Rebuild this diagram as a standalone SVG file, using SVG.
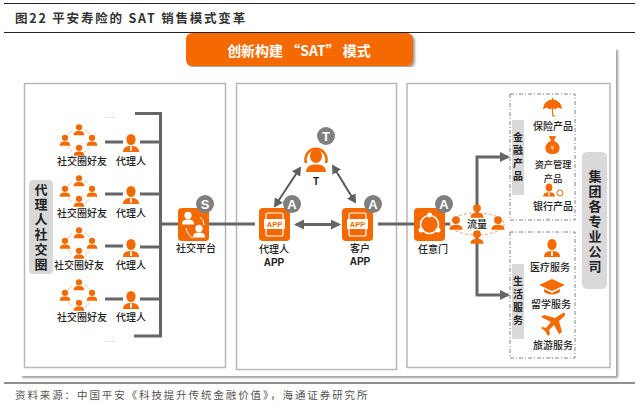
<svg xmlns="http://www.w3.org/2000/svg" width="640" height="407" viewBox="0 0 640 407">
<style>
text{font-family:"Noto Sans CJK SC","Liberation Sans",sans-serif;fill:#222}
.l{font-size:10px;text-anchor:middle;font-weight:500}
.lat{font-size:10px;text-anchor:middle;font-weight:700;font-family:"Liberation Sans",sans-serif}
.v{font-size:13px;text-anchor:middle;font-weight:700;writing-mode:vertical-rl;letter-spacing:2px}
.vs{font-size:10px;text-anchor:middle;font-weight:700;writing-mode:vertical-rl;letter-spacing:3px}
.b{font-size:13px;text-anchor:middle;font-weight:700;fill:#fff;font-family:"Liberation Sans",sans-serif}
.dots{font-size:6px;text-anchor:middle;fill:#777;font-family:"Liberation Sans",sans-serif}
.app{font-size:7.500px;font-weight:700;text-anchor:middle;fill:#f56a00;font-family:"Liberation Sans",sans-serif}
.panel{fill:#fff;stroke:#b8b8b8;stroke-width:1.5}
.tile{fill:#f56a00}
.badge{fill:#7f7f7f}
.tag{fill:#d9d9d9}
.dash{fill:#fff;stroke:#777;stroke-width:.9;stroke-dasharray:4 2 1 2}
.wire{fill:none;stroke:#666;stroke-width:3}
.thin{fill:none;stroke:#5a5a5a;stroke-width:2}
.o{fill:#f56a00}
.ol{fill:none;stroke:#f08a4b;stroke-width:.8;stroke-dasharray:2 1.500}
</style>
<defs>
<filter id="sh" x="-3%" y="-3%" width="106%" height="106%"><feDropShadow dx="2" dy="2" stdDeviation="1.200" flood-color="#888" flood-opacity=".8"/></filter>
<marker id="ah" markerWidth="5" markerHeight="5" refX="3.600" refY="2.500" orient="auto-start-reverse" markerUnits="strokeWidth"><path d="M0 0L4.500 2.500L0 5Z" fill="#5f5f5f"/></marker>
<marker id="ah2" markerWidth="4" markerHeight="4" refX="2.800" refY="1.750" orient="auto-start-reverse" markerUnits="strokeWidth"><path d="M0 0L3.500 1.750L0 3.500Z" fill="#666"/></marker>
<g id="p"><circle cx="0" cy="-3" r="3"/><path d="M-5 4.500C-5 1-2.500 .5 0 .5S5 1 5 4.500Z"/></g>
<g id="ag"><ellipse cx="0" cy="-3.500" rx="4.600" ry="5.500"/><path d="M-8 9C-8 4-4 3 0 3S8 4 8 9Z"/><path d="M-1 3.500H1L.8 8H-.8Z" fill="#fff"/></g>
<g id="fr"><use href="#p" class="o" transform="translate(0 -9.500) scale(1.050)"/><use href="#p" class="o" transform="translate(0 11) scale(1.050)"/><use href="#p" class="o" transform="translate(-14 1) scale(1.050)"/><use href="#p" class="o" transform="translate(13 1) scale(1.050)"/><path class="ol" d="M-11-5Q-9-8-6-10M6-10Q9-8 11-5M-11 7Q-9 10-6 12M6 12Q9 10 11 7"/></g>
</defs>
<rect width="640" height="407" fill="#fff"/>
<path d="M4 3.500H635M4 32.500H635M4 383H635" stroke="#222" stroke-width="1" fill="none"/>
<text x="15" y="23" font-size="12.500" font-weight="700" letter-spacing="1.800" style="fill:#333">图22 平安寿险的 SAT 销售模式变革</text>
<text x="15" y="399" font-size="10.500" letter-spacing="1.900" style="fill:#555">资料来源：中国平安《科技提升传统金融价值》，海通证券研究所</text>

<rect x="20" y="48" width="596" height="328" fill="#fff" filter="url(#sh)"/>
<g id="header"><rect x="186" y="33" width="227" height="33" rx="6" fill="#f56a00" filter="url(#sh)"/><text x="299" y="56" font-size="14" font-weight="700" text-anchor="middle" style="fill:#fff">创新构建 “SAT” 模式</text></g>
<rect class="panel" x="24.500" y="83.500" width="201" height="284"/>
<rect class="panel" x="236.500" y="83.500" width="160" height="286"/>
<rect class="panel" x="407" y="83.500" width="203" height="284"/>

<g id="connectors">
<path class="wire" d="M135 113.500H160.500V336H134"/>
<path class="wire" d="M140 142H160M140 194H160M140 247H160M140 299H160M105 142H123M105 194H123M105 246H123M105 299H123"/>
<path class="wire" d="M160 224H178M209 224H255"/>
<path class="wire" d="M378 224H414M445 224H456"/>
<path class="wire" marker-start="url(#ah2)" marker-end="url(#ah2)" d="M296 224.500H339"/>
<path class="thin" marker-start="url(#ah)" marker-end="url(#ah)" d="M275 206L300 168"/>
<path class="thin" marker-start="url(#ah)" marker-end="url(#ah)" d="M333 166L355 202"/>
<path class="wire" marker-end="url(#ah2)" d="M477 235V157H508"/>
<path class="wire" marker-end="url(#ah2)" d="M477 235V295H508"/>
</g>

<g id="social-circle">
<rect class="tag" x="29" y="180" width="24" height="94" rx="4"/>
<text class="v" x="41" y="228">代理人社交圈</text>
<text class="dots" x="110" y="118">......</text>
<text class="dots" x="110" y="342">......</text>
</g>

<g id="row1"><use href="#fr" x="79" y="140"/><use href="#ag" class="o" x="131" y="143"/><text class="l" x="82" y="165">社交圈好友</text><text class="l" x="131" y="165">代理人</text></g>
<g id="row2"><use href="#fr" x="79" y="191"/><use href="#ag" class="o" x="131" y="195"/><text class="l" x="82" y="217">社交圈好友</text><text class="l" x="131" y="217">代理人</text></g>
<g id="row3"><use href="#fr" x="79" y="243"/><use href="#ag" class="o" x="131" y="248"/><text class="l" x="79" y="269">社交圈好友</text><text class="l" x="131" y="269">代理人</text></g>
<g id="row4"><use href="#fr" x="79" y="295"/><use href="#ag" class="o" x="131" y="300"/><text class="l" x="82" y="321">社交圈好友</text><text class="l" x="131" y="321">代理人</text></g>

<g id="social-platform"><rect class="tile" x="178" y="208" width="31" height="33" rx="4"/><use href="#p" fill="#fff" transform="translate(188 219) scale(1.200)"/><use href="#p" fill="#fff" transform="translate(199 232) scale(1.200)"/><path d="M186 228Q188 236 193 238M200 217Q204 220 204 225" fill="none" stroke="#fff" stroke-width="1"/><circle class="badge" cx="205" cy="204" r="9"/><text class="b" x="205" y="209">S</text><text class="l" x="196" y="252">社交平台</text></g>

<g id="agent-app"><rect class="tile" x="259" y="208" width="31" height="33" rx="4"/><rect x="266" y="213" width="17" height="23" rx="2" fill="none" stroke="#fff" stroke-width="1.200"/><rect x="264" y="219" width="21" height="10" rx="1" fill="#fff"/><text class="app" x="274.500" y="227">APP</text><circle class="badge" cx="292" cy="204" r="9"/><text class="b" x="292" y="209">A</text><text class="l" x="274" y="253">代理人<tspan class="lat" x="274" dy="13">APP</tspan></text></g>

<g id="customer-app"><rect class="tile" x="342" y="208" width="31" height="33" rx="4"/><rect x="349" y="213" width="17" height="23" rx="2" fill="none" stroke="#fff" stroke-width="1.200"/><rect x="347" y="219" width="21" height="10" rx="1" fill="#fff"/><text class="app" x="357.500" y="227">APP</text><circle class="badge" cx="373" cy="204" r="9"/><text class="b" x="373" y="209">A</text><text class="l" x="360" y="252">客户<tspan class="lat" x="360" dy="13">APP</tspan></text></g>

<g id="teacher"><circle class="badge" cx="326" cy="136" r="9"/><text class="b" x="326" y="141">T</text><path d="M306 163A10.500 11 0 1 1 326 163" fill="none" stroke="#f56a00" stroke-width="2.500"/><ellipse class="o" cx="316" cy="156" rx="6" ry="7"/><path class="o" d="M306 172C306 166 311 164.500 316 164.500S326 166 326 172Z"/><text class="lat" x="316" y="185">T</text></g>

<g id="anydoor"><rect class="tile" x="414" y="208" width="31" height="33" rx="4"/><circle cx="429.500" cy="224.500" r="9" fill="none" stroke="#fff" stroke-width="1.500"/><circle cx="429.500" cy="215" r="2.500" fill="#fff"/><circle cx="421" cy="230" r="2.500" fill="#fff"/><circle cx="438" cy="230" r="2.500" fill="#fff"/><circle class="badge" cx="444" cy="204" r="9"/><text class="b" x="444" y="209">A</text><text class="l" x="433" y="253">任意门</text></g>

<g id="traffic"><ellipse cx="477" cy="224" rx="27" ry="11" fill="#fff" stroke="#f08a4b" stroke-width=".8" stroke-dasharray="3 2"/><use href="#p" class="o" transform="translate(456 224) scale(1.300)"/><use href="#p" class="o" transform="translate(477 212) scale(1.300)"/><use href="#p" class="o" transform="translate(477 238) scale(1.300)"/><use href="#p" class="o" transform="translate(498 224) scale(1.300)"/><text class="l" x="477" y="228">流量</text></g>

<g id="finance"><rect class="dash" x="510" y="94" width="65" height="126"/><rect class="tag" x="512" y="120" width="12" height="75"/>
<text class="vs" x="518" y="158">金融产品</text>
<path class="o" d="M543 109A9.500 9.500 0 0 1 562 109L558 107.500L555 109.500L552.500 107.500L550 109.500L547 107.500Z"/><path d="M552.500 98V114Q552.500 117 555 115.500" stroke="#f56a00" stroke-width="1.200" fill="none"/>
<text class="l" x="553" y="130">保险产品</text>
<path class="o" d="M549 136H556L554 141C559 143 560 147 559.500 149C559 153 556 154 552.500 154S546 153 545.500 149C545 147 546 143 551 141Z"/><text x="552.500" y="150" font-size="6" text-anchor="middle" style="fill:#fff">¥</text>
<text class="l" x="553" y="168" style="font-size:9.200px">资产管理<tspan x="553" dy="13.500">产品</tspan></text>
<use href="#ag" class="o" transform="translate(549 190) scale(.72)"/><circle cx="560" cy="193" r="3" fill="none" stroke="#f56a00"/>
<text class="l" x="553" y="210">银行产品</text><text class="dots" x="548" y="219">...</text></g>

<g id="life"><rect class="dash" x="510" y="232" width="65" height="126"/><rect class="tag" x="512" y="264" width="12" height="75"/>
<text class="vs" x="518" y="302">生活服务</text>
<use href="#ag" class="o" x="552" y="248"/>
<text class="l" x="550" y="271">医疗服务</text>
<path class="o" d="M552 279L565 285L552 291L539 285Z"/><path class="o" d="M544 289V292Q552 297 560 292V289L552 293Z"/>
<text class="l" x="551" y="308">留学服务</text>
<path class="o" d="M563 313C565 312 565.500 314 564.500 316L559 321L562 332L559 334L554 325L549 330L550 334L548 336L545 331L541 328L543 327L546 328L551 322L541 317L544 315L555 318Z"/>
<text class="l" x="553" y="349">旅游服务</text><text class="dots" x="551" y="358">...</text></g>

<g id="group-companies"><rect class="tag" x="582" y="152" width="25" height="137" rx="5"/>
<text class="v" x="595" y="222">集团各专业公司</text></g>
</svg>
